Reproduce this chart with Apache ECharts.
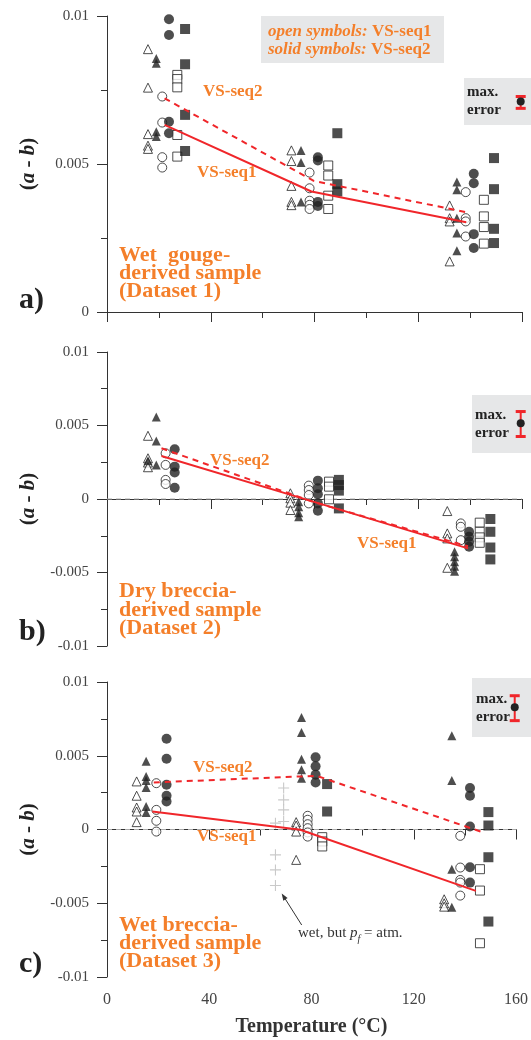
<!DOCTYPE html>
<html>
<head>
<meta charset="UTF-8">
<title>(a - b) vs temperature</title>
<script src="https://cdn.jsdelivr.net/npm/echarts@6/dist/echarts.min.js"></script>
<style>
    html, body { margin: 0; padding: 0; background: #fff; }
    #chart1 { width: 531px; height: 1040px; }
</style>
</head>
<body>
<div id="chart1"></div>
<script type="text/javascript">
var chart1 = echarts.init(document.getElementById('chart1'));

var serif = "'Liberation Serif', 'DejaVu Serif', serif";
var orange = '#f47f2a';
var red = '#f0262a';
var ink = '#222';

// ---- panel a) wet gouge-derived sample (Dataset 1) ----
var aOpenTri = [[15.8,0.00888],[15.8,0.00758],[15.8,0.00601],[15.8,0.00562],[15.8,0.00551],
    [71.1,0.00546],[71.1,0.00510],[71.1,0.00426],[71.1,0.00372],[71.1,0.00361],
    [132.1,0.00360],[132.1,0.00317],[132.1,0.00306],[132.1,0.00171]];
var aSolidTri = [[19.0,0.00856],[19.0,0.00840],[19.0,0.00609],[19.0,0.00593],
    [74.8,0.00546],[74.8,0.00505],[74.8,0.00372],
    [134.9,0.00439],[134.9,0.00413],[134.9,0.00317],[134.9,0.00267],[134.9,0.00207]];
var aOpenCirc = [[21.3,0.00728],[21.3,0.00640],[21.3,0.00523],[21.3,0.00488],
    [78.1,0.00471],[78.1,0.00418],[78.1,0.00376],[78.1,0.00362],[78.1,0.00348],
    [138.3,0.00405],[138.3,0.00317],[138.3,0.00306],[138.3,0.00255]];
var aSolidCirc = [[23.9,0.00989],[23.9,0.00936],[23.9,0.00643],[23.9,0.00604],
    [81.3,0.00523],[81.3,0.00512],[81.3,0.00372],[81.3,0.00358],
    [141.4,0.00467],[141.4,0.00435],[141.4,0.00263],[141.4,0.00216]];
var aOpenSq = [[27.1,0.00801],[27.1,0.00787],[27.1,0.00759],[27.1,0.00598],[27.1,0.00525],
    [85.3,0.00495],[85.3,0.00461],[85.3,0.00393],[85.3,0.00348],
    [145.3,0.00379],[145.3,0.00323],[145.3,0.00287],[145.3,0.00231]];
var aSolidSq = [[30.1,0.00956],[30.1,0.00837],[30.1,0.00666],[30.1,0.00544],
    [88.8,0.00604],[88.8,0.00432],[88.8,0.00407],
    [149.2,0.00520],[149.2,0.00415],[149.2,0.00281],[149.2,0.00233]];
var aSeq1 = [[22.2,0.00632],[78.8,0.00407],[138.5,0.00303]];
var aSeq2 = [[22.2,0.00722],[79.7,0.00443],[139.1,0.00336]];
var aMaxErr = [[159.5,0.00711,0.00688,0.00728]];

// ---- panel b) dry breccia-derived sample (Dataset 2) ----
var bOpenTri = [[15.8,0.00430],[15.8,0.00277],[15.8,0.00248],[15.8,0.00216],
    [70.7,0.00039],[70.7,0.00005],[70.7,-0.00025],[70.7,-0.00075],
    [131.2,-0.00082],[131.2,-0.00234],[131.2,-0.00268],[131.2,-0.00468]];
var bSolidTri = [[19.0,0.00557],[19.0,0.00395],[15.8,0.00261],[19.0,0.00232],
    [73.9,-0.00018],[73.9,-0.00052],[73.9,-0.00093],[73.9,-0.00120],
    [134.0,-0.00359],[134.0,-0.00393],[134.0,-0.00427],[134.0,-0.00457],[134.0,-0.00491]];
var bOpenCirc = [[22.6,0.00311],[22.6,0.00232],[22.6,0.00130],[22.6,0.00102],
    [77.8,0.00091],[77.8,0.00061],[77.8,0.00027],[77.8,-0.00030],
    [136.4,-0.00166],[136.4,-0.00189],[136.4,-0.00280]];
var bSolidCirc = [[26.1,0.00339],[26.1,0.00220],[26.1,0.00180],[26.1,0.00077],
    [81.3,0.00125],[81.3,0.00073],[81.3,0.00032],[81.3,-0.00030],[81.3,-0.00080],
    [139.6,-0.00223],[139.6,-0.00257],[139.6,-0.00291],[139.6,-0.00325]];
var bOpenSq = [[85.6,0.00118],[85.6,0.00084],[85.6,-0.00002],
    [143.7,-0.00161],[143.7,-0.00223],[143.7,-0.00261],[143.7,-0.00298]];
var bSolidSq = [[89.4,0.00130],[89.4,0.00095],[89.4,0.00057],[89.4,-0.00064],
    [147.8,-0.00136],[147.8,-0.00223],[147.8,-0.00330],[147.8,-0.00411]];
var bSeq1 = [[21.0,0.00293],[79.5,-0.00018],[139.2,-0.00336]];
var bSeq2 = [[21.0,0.00345],[79.5,-0.00020],[139.2,-0.00322]];
var bMaxErr = [[159.5,0.00516,0.00425,0.00595]];

// ---- panel c) wet breccia-derived sample (Dataset 3) ----
var cOpenTri = [[11.6,0.00326],[11.6,0.00229],[11.6,0.00149],[11.6,0.00122],[11.6,0.00050],
    [74.0,0.00050],[74.0,0.00027],[74.0,-0.00014],[74.0,-0.00206],
    [131.9,-0.00473],[131.9,-0.00500],[131.9,-0.00523]];
var cSolidTri = [[15.3,0.00462],[15.3,0.00360],[15.3,0.00333],[15.3,0.00285],[15.3,0.00156],[15.3,0.00115],
    [76.1,0.00760],[76.1,0.00658],[76.1,0.00477],[76.1,0.00405],[76.1,0.00348],
    [134.9,0.00636],[134.9,0.00333],[134.9,-0.00269],[134.9,-0.00527]];
var cOpenCirc = [[19.3,0.00314],[19.3,0.00133],[19.3,0.00059],[19.3,-0.00014],
    [78.5,0.00093],[78.5,0.00066],[78.5,0.00036],[78.5,0.00009],[78.5,-0.00020],[78.5,-0.00048],
    [138.2,-0.00043],[138.2,-0.00258],[138.2,-0.00342],[138.2,-0.00360],[138.2,-0.00448]];
var cSolidCirc = [[23.3,0.00615],[23.3,0.00480],[23.3,0.00303],[23.3,0.00229],[23.3,0.00190],
    [81.6,0.00489],[81.6,0.00428],[81.6,0.00371],[81.6,0.00319],
    [142.0,0.00281],[142.0,0.00229],[142.0,0.00020],[142.0,-0.00256],[142.0,-0.00360]];
var cOpenSq = [[84.2,-0.00052],[84.2,-0.00081],[84.2,-0.00115],
    [145.9,-0.00269],[145.9,-0.00414],[145.9,-0.00771]];
var cSolidSq = [[86.1,0.00308],[86.1,0.00122],
    [149.2,0.00118],[149.2,0.00027],[149.2,-0.00188],[149.2,-0.00624]];
var cWetAtm = [[65.9,0.00043],[65.9,-0.00172],[65.9,-0.00274],[65.9,-0.00380],
    [69.1,0.00281],[69.1,0.00201],[69.1,0.00133],[69.1,0.00054]];
var cSeq1 = [[17.7,0.00122],[75.6,-0.00002],[144.3,-0.00416]];
var cSeq2 = [[18.3,0.00319],[82.0,0.00364],[146.2,-0.00014]];
var cMaxErr = [[159.5,0.00828,0.00738,0.00907]];

var zeroLine = [[0,0],[160,0]];

// panel layout (pixels)
var gridTops = [16, 352, 682];
var gridHeights = [296, 294, 295];
var yMins = [0, -0.01, -0.01];

var plusPath = 'path://M4.5,0h1v4.5h4.5v1h-4.5v4.5h-1v-4.5h-4.5v-1h4.5z';

function scatter(data, idx, symbol, open, size) {
    return {
        type: 'scatter', xAxisIndex: idx, yAxisIndex: idx, data: data,
        symbol: symbol, symbolSize: size, z: 3,
        itemStyle: open ? { color: '#fff', borderColor: ink, borderWidth: 1 } : { color: ink },
        emphasis: { disabled: true }
    };
}
function seqLine(data, idx, dashed) {
    return {
        type: 'line', xAxisIndex: idx, yAxisIndex: idx, data: data, symbol: 'none', z: 4,
        lineStyle: { color: red, width: 2, type: dashed ? [6, 5] : 'solid' }
    };
}
function zero(idx) {
    return {
        type: 'line', xAxisIndex: idx, yAxisIndex: idx, data: zeroLine, symbol: 'none', z: 1,
        lineStyle: { color: '#aaa', width: 1, type: [5, 4] }
    };
}
function maxErr(data, idx) {
    return {
        type: 'custom', xAxisIndex: idx, yAxisIndex: idx, data: data, clip: false, z: 6,
        encode: { x: 0, y: 1 },
        renderItem: function (params, api) {
            var c = api.coord([api.value(0), api.value(1)]);
            var lo = api.coord([api.value(0), api.value(2)]);
            var hi = api.coord([api.value(0), api.value(3)]);
            var w = 5;
            return { type: 'group', children: [
                { type: 'line', shape: { x1: c[0], y1: lo[1], x2: c[0], y2: hi[1] }, style: { stroke: red, lineWidth: 2 } },
                { type: 'line', shape: { x1: c[0] - w, y1: lo[1], x2: c[0] + w, y2: lo[1] }, style: { stroke: red, lineWidth: 3 } },
                { type: 'line', shape: { x1: c[0] - w, y1: hi[1], x2: c[0] + w, y2: hi[1] }, style: { stroke: red, lineWidth: 3 } },
                { type: 'circle', shape: { cx: c[0], cy: c[1], r: 4 }, style: { fill: ink } }
            ] };
        }
    };
}
function panelSeries(idx, oT, sT, oC, sC, oS, sS, seq1, seq2, err) {
    return [
        scatter(oT, idx, 'triangle', true, 9),
        scatter(sT, idx, 'triangle', false, 9),
        scatter(oC, idx, 'circle', true, 9),
        scatter(sC, idx, 'circle', false, 10),
        scatter(oS, idx, 'rect', true, 9),
        scatter(sS, idx, 'rect', false, 10),
        seqLine(seq1, idx, false),
        seqLine(seq2, idx, true),
        maxErr(err, idx)
    ];
}

var series = []
    .concat(panelSeries(0, aOpenTri, aSolidTri, aOpenCirc, aSolidCirc, aOpenSq, aSolidSq, aSeq1, aSeq2, aMaxErr))
    .concat([zero(1)])
    .concat(panelSeries(1, bOpenTri, bSolidTri, bOpenCirc, bSolidCirc, bOpenSq, bSolidSq, bSeq1, bSeq2, bMaxErr))
    .concat([zero(2)])
    .concat(panelSeries(2, cOpenTri, cSolidTri, cOpenCirc, cSolidCirc, cOpenSq, cSolidSq, cSeq1, cSeq2, cMaxErr));
series.push({
    type: 'scatter', xAxisIndex: 2, yAxisIndex: 2, data: cWetAtm, symbol: plusPath, symbolSize: 11,
    itemStyle: { color: '#bbb' }, z: 2
});

var grid = [], xAxis = [], yAxis = [];
for (var i = 0; i < 3; i++) {
    grid.push({ left: 107, width: 415, top: gridTops[i], height: gridHeights[i] });
    xAxis.push({
        type: 'value', gridIndex: i, min: 0, max: 160, interval: 40,
        axisLine: { show: true, lineStyle: { color: '#333', width: 1 } },
        axisTick: { show: true, length: 10, lineStyle: { color: '#333' } },
        minorTick: { show: true, splitNumber: 2, length: 6, lineStyle: { color: '#333' } },
        axisLabel: { show: i === 2, margin: 15, color: '#444', fontSize: 16, fontFamily: serif },
        splitLine: { show: false },
        name: i === 2 ? 'Temperature (°C)' : '',
        nameLocation: 'middle', nameGap: 40,
        nameTextStyle: { color: '#333', fontSize: 20, fontWeight: 'bold', fontFamily: serif }
    });
    yAxis.push({
        type: 'value', gridIndex: i, min: yMins[i], max: 0.01, interval: 0.005,
        axisLine: { show: true, lineStyle: { color: '#333', width: 1 } },
        axisTick: { show: true, length: 10, lineStyle: { color: '#333' } },
        minorTick: { show: true, splitNumber: 2, length: 6, lineStyle: { color: '#333' } },
        axisLabel: { margin: 18, color: '#444', fontSize: 15, fontFamily: serif },
        splitLine: { show: false },
        name: '{p|(}{i|a}{p| - }{i|b}{p|)}',
        nameLocation: 'middle', nameGap: 68, nameRotate: 90,
        nameTextStyle: {
            rich: {
                p: { fontSize: 21, fontWeight: 'bold', fontFamily: serif, color: ink },
                i: { fontSize: 21, fontWeight: 'bold', fontStyle: 'italic', fontFamily: serif, color: ink }
            }
        }
    });
}

function txt(x, y, text, font, color, extra) {
    var s = { text: text, font: font, fill: color || ink, verticalAlign: 'middle' };
    if (extra) { for (var k in extra) s[k] = extra[k]; }
    return { type: 'text', x: x, y: y, z: 10, style: s };
}
function box(x, y, w, h) {
    return { type: 'rect', shape: { x: x, y: y, width: w, height: h }, style: { fill: '#e6e7e8' }, z: 0 };
}
var boldOrange = 'bold 22px ' + serif;
var vsFont = 'bold 17px ' + serif;
var errFont = 'bold 15px ' + serif;
var legRich = { i: { font: 'italic bold 17px ' + serif, fill: orange }, b: { font: 'bold 17px ' + serif, fill: orange } };

var graphic = [
    // legend box in panel a
    box(261, 16, 183, 47),
    { type: 'text', x: 268, y: 31.7, z: 10, style: { text: '{i|open symbols: }{b|VS-seq1}', verticalAlign: 'middle', rich: legRich } },
    { type: 'text', x: 268, y: 49.3, z: 10, style: { text: '{i|solid symbols: }{b|VS-seq2}', verticalAlign: 'middle', rich: legRich } },
    // max. error boxes
    box(464, 78, 67, 47), txt(467, 92, 'max.', errFont), txt(467, 110, 'error', errFont),
    box(472, 395, 59, 58), txt(475, 415, 'max.', errFont), txt(475, 433, 'error', errFont),
    box(472, 678, 59, 59), txt(476, 699, 'max.', errFont), txt(476, 717, 'error', errFont),
    // sequence labels
    txt(203, 91.7, 'VS-seq2', vsFont, orange), txt(197, 172.7, 'VS-seq1', vsFont, orange),
    txt(210, 461, 'VS-seq2', vsFont, orange), txt(357, 543.3, 'VS-seq1', vsFont, orange),
    txt(193, 768, 'VS-seq2', vsFont, orange), txt(197, 836.7, 'VS-seq1', vsFont, orange),
    // sample names
    txt(119, 273.3, 'Wet  gouge-\nderived sample\n(Dataset 1)', boldOrange, orange, { lineHeight: 18.4 }),
    txt(119, 610, 'Dry breccia-\nderived sample\n(Dataset 2)', boldOrange, orange, { lineHeight: 18.4 }),
    txt(119, 943.3, 'Wet breccia-\nderived sample\n(Dataset 3)', boldOrange, orange, { lineHeight: 18.4 }),
    // panel letters
    txt(19, 300, 'a)', 'bold 30px ' + serif), txt(19, 632, 'b)', 'bold 30px ' + serif), txt(19, 964, 'c)', 'bold 30px ' + serif),
    // annotation
    { type: 'text', x: 298, y: 933, z: 10, style: {
        text: '{n|wet, but }{i|p}{s|f}{n| = atm.}', verticalAlign: 'middle',
        rich: {
            n: { font: '15px ' + serif, fill: '#333', lineHeight: 22 },
            i: { font: 'italic 15px ' + serif, fill: '#333', lineHeight: 22 },
            s: { font: 'italic 10px ' + serif, fill: '#333', lineHeight: 10, verticalAlign: 'bottom' }
        } } },
    { type: 'line', z: 10, shape: { x1: 301.7, y1: 925, x2: 284, y2: 897 }, style: { stroke: '#333', lineWidth: 1 } },
    { type: 'polygon', z: 10, shape: { points: [[281.7, 893.5], [287.6, 898.1], [283.3, 900.7]] }, style: { fill: '#333' } }
];

var option = {
    backgroundColor: '#fff',
    animation: false,
    grid: grid,
    xAxis: xAxis,
    yAxis: yAxis,
    series: series,
    graphic: graphic
};
chart1.setOption(option);
</script>
</body>
</html>
